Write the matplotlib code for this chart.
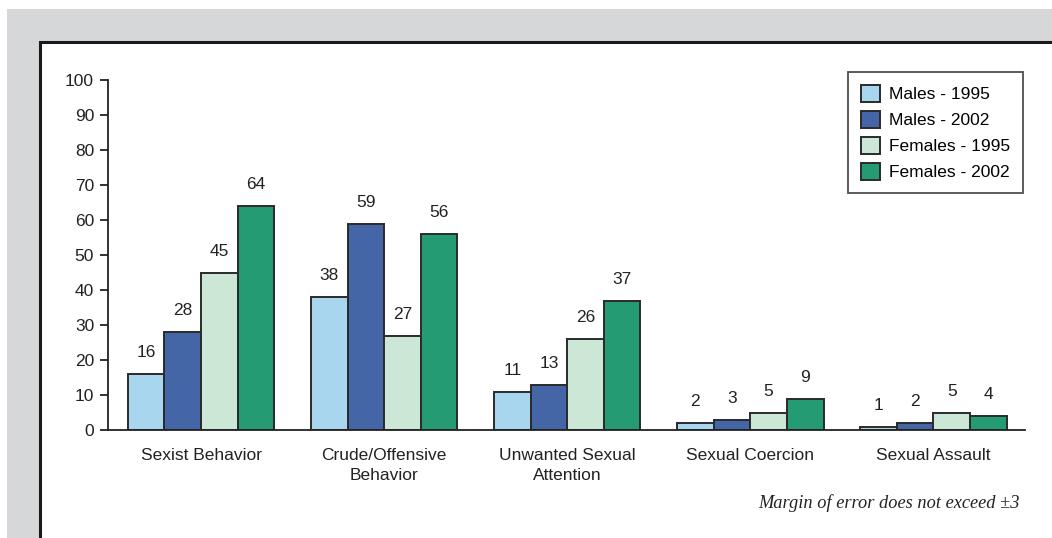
import numpy as np
import matplotlib
matplotlib.use("Agg")
import matplotlib.pyplot as plt
from matplotlib.patches import Rectangle

plt.rcParams["font.family"] = ["Liberation Sans", "DejaVu Sans"]

# data
categories = ["Sexist Behavior", "Crude/Offensive\nBehavior", "Unwanted Sexual\nAttention",
              "Sexual Coercion", "Sexual Assault"]
series_names = ["Males - 1995", "Males - 2002", "Females - 1995", "Females - 2002"]
males_1995 = [16, 38, 11, 2, 1]
males_2002 = [28, 59, 13, 3, 2]
females_1995 = [45, 27, 26, 5, 5]
females_2002 = [64, 56, 37, 9, 4]
y_ticks = [0, 10, 20, 30, 40, 50, 60, 70, 80, 90, 100]
note = "Margin of error does not exceed \u00b13"

colors = ["#a7d6ee", "#4566a6", "#cce7d5", "#259b74"]
W, H = 1052, 538
FS = 12.5

fig = plt.figure(figsize=(W / 100, H / 100), dpi=100)
fig.patch.set_facecolor("white")

# grey frame and white panel with black border
fig.patches.append(Rectangle((7 / W, 0), 1, 1 - 9 / H, transform=fig.transFigure,
                             facecolor="#d6d7d9", edgecolor="none", zorder=-3))
fig.patches.append(Rectangle((40 / W, -0.05), 1.1, 1.05 - 42 / H, transform=fig.transFigure,
                             facecolor="white", edgecolor="#1a1a1a", linewidth=2.2, zorder=-2))

ax = fig.add_axes([108 / W, 1 - 430 / H, (1025 - 108) / W, 350 / H])
ax.set_facecolor("none")

x = np.arange(len(categories))
width = 0.2
all_series = [males_1995, males_2002, females_1995, females_2002]
for i, (vals, name, col) in enumerate(zip(all_series, series_names, colors)):
    pos = x + (i - 1.5) * width
    ax.bar(pos, vals, width, color=col, edgecolor="#2a2a2a", linewidth=1.4, label=name, zorder=2)
    for px, v in zip(pos, vals):
        ax.annotate(str(v), (px, v), xytext=(0, 10), textcoords="offset points",
                    ha="center", va="bottom", fontsize=FS, color="#222222")

ax.set_xlim(-0.508, 4.5)
ax.set_ylim(0, 100)
ax.set_yticks(y_ticks)
ax.tick_params(axis="y", direction="out", length=6, width=1.3, labelsize=FS,
               colors="#222222", pad=4)
ax.set_xticks(x)
ax.set_xticklabels(categories, fontsize=FS, color="#222222", linespacing=1.45)
ax.tick_params(axis="x", length=0, pad=13)
for side in ["top", "right"]:
    ax.spines[side].set_visible(False)
for side in ["left", "bottom"]:
    ax.spines[side].set_linewidth(1.3)
    ax.spines[side].set_color("#222222")

leg = ax.legend(loc="upper right", bbox_to_anchor=(1.007, 1.047), fontsize=FS, frameon=True,
                fancybox=False, edgecolor="#222222", handlelength=1.1, handleheight=1.1,
                handletextpad=0.5, borderpad=0.75, labelspacing=0.5)
leg.get_frame().set_linewidth(1.3)

fig.text(1020 / W, 1 - 503 / H, note, ha="right", va="center", fontsize=13.2,
         family=["Liberation Serif", "DejaVu Serif"], style="italic", color="#222222")

fig.savefig("out.png", dpi=100)
